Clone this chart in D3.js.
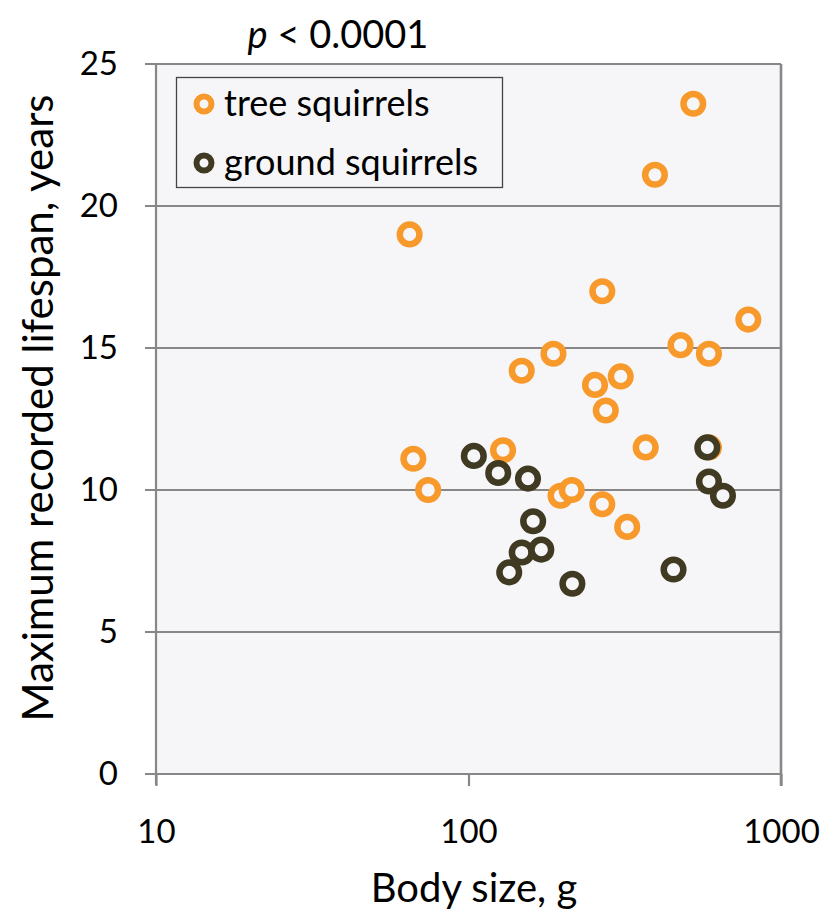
<!DOCTYPE html>
<html><head><meta charset="utf-8">
<script src="https://cdn.jsdelivr.net/npm/d3@7"></script>
<style>body{margin:0;background:#fff}svg{display:block}text{font-family:Lato,"Open Sans",sans-serif;fill:#000}</style>
</head><body>
<svg id="c" width="821" height="919"></svg>
<script>
const treeMass = [524,395,64.8,268,786,477,588,187,148,254,307,275,369,588,66.6,129,74.3,197,214,268,322];
const treeLife = [23.6,21.1,19.0,17.0,16.0,15.1,14.8,14.8,14.2,13.7,14.0,12.8,11.5,11.5,11.1,11.4,10.0,9.8,10.0,9.5,8.7];
const groundMass = [104,124.5,155,581,588,652,161,148,171,135,215,453];
const groundLife = [11.2,10.6,10.4,11.5,10.3,9.8,8.9,7.8,7.9,7.1,6.7,7.2];
const xTicks = [10,100,1000];
const yTicks = [0,5,10,15,20,25];
const seriesNames = ["tree squirrels","ground squirrels"];
const colors = ["#F7992B","#403A22"];

const svg = d3.select("#c");
const L=156, R=781, T=64, B=774;
const x = d3.scaleLog().domain([10,1000]).range([L,R]);
const y = d3.scaleLinear().domain([0,25]).range([B,T]);
const grid="#878787";

svg.append("rect").attr("x",L).attr("y",T).attr("width",R-L).attr("height",B-T).attr("fill","#F6F6F9");

svg.append("g").selectAll("line").data(yTicks).join("line")
  .attr("x1",L-11).attr("x2",R).attr("y1",d=>y(d)).attr("y2",d=>y(d))
  .attr("stroke",grid).attr("stroke-width",2.2);

svg.append("line").attr("x1",L).attr("x2",L).attr("y1",T).attr("y2",B+11).attr("stroke",grid).attr("stroke-width",2.2);
svg.append("line").attr("x1",R).attr("x2",R).attr("y1",T).attr("y2",B+12).attr("stroke",grid).attr("stroke-width",2.6);

const xa = svg.append("g").attr("transform",`translate(0,${B})`)
  .call(d3.axisBottom(x).tickValues(xTicks).tickFormat(d3.format("d")).tickSize(12).tickPadding(34));
xa.select(".domain").remove();
xa.selectAll("line").attr("stroke",grid).attr("stroke-width",2.2);
xa.selectAll("text").style("font-size","33px").attr("fill","#000");

const ya = svg.append("g").attr("transform",`translate(${L},0)`)
  .call(d3.axisLeft(y).tickValues(yTicks).tickSize(0).tickPadding(38));
ya.select(".domain").remove();
ya.selectAll("text").style("font-size","33px").attr("fill","#000");

const tree = treeMass.map((m,i)=>({m,l:treeLife[i]}));
const ground = groundMass.map((m,i)=>({m,l:groundLife[i]}));
svg.append("g").selectAll("circle").data(tree).join("circle")
  .attr("cx",d=>x(d.m)).attr("cy",d=>y(d.l)).attr("r",9.8)
  .attr("fill","#F6F6F9").attr("stroke",colors[0]).attr("stroke-width",6.5);
svg.append("g").selectAll("circle").data(ground).join("circle")
  .attr("cx",d=>x(d.m)).attr("cy",d=>y(d.l)).attr("r",9.8)
  .attr("fill","#F6F6F9").attr("stroke",colors[1]).attr("stroke-width",6.5);

const lg = svg.append("g");
lg.append("rect").attr("x",176.5).attr("y",77.5).attr("width",326).attr("height",110)
  .attr("fill","#F6F6F9").attr("stroke","#444").attr("stroke-width",1.3);
seriesNames.forEach((n,i)=>{
  const cy = 104 + i*59;
  lg.append("circle").attr("cx",204).attr("cy",cy).attr("r",7.5)
    .attr("fill","#F6F6F9").attr("stroke",colors[i]).attr("stroke-width",6);
  lg.append("text").attr("x",224).attr("y",cy+12).style("font-size","36px").text(n);
});

const pt = svg.append("text").attr("x",338).attr("y",48).attr("text-anchor","middle").style("font-size","38px");
pt.append("tspan").style("font-style","italic").text("p");
pt.append("tspan").text(" < 0.0001");

svg.append("text").attr("x",474).attr("y",902).attr("text-anchor","middle").style("font-size","40px").text("Body size, g");
svg.append("text").attr("transform","translate(53,408) rotate(-90)").attr("text-anchor","middle").style("font-size","42px").text("Maximum recorded lifespan, years");
</script>
</body></html>
